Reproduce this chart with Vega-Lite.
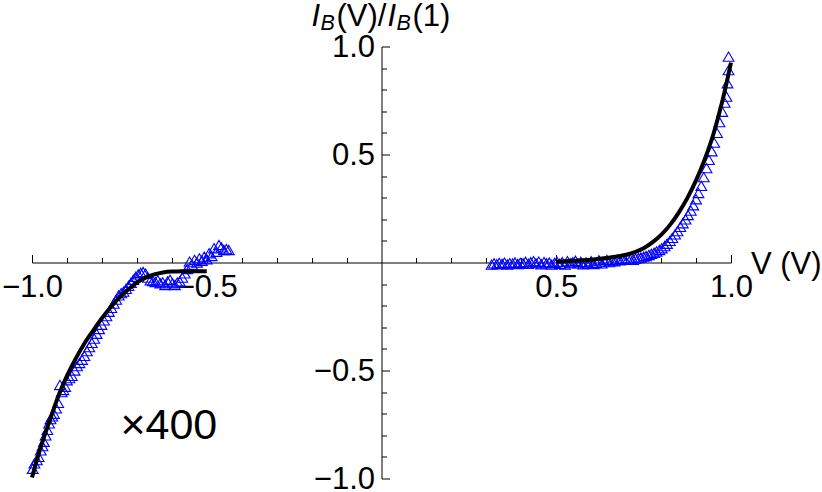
{
  "$schema": "https://vega.github.io/schema/vega-lite/v6.json",
  "width": 699,
  "height": 432,
  "autosize": {"type": "none"},
  "padding": {"left": 32, "top": 46.5, "right": 91, "bottom": 13.5},
  "background": "white",
  "config": {"view": {"stroke": null}},
  "resolve": {"axis": {"x": "independent", "y": "independent"}},
  "datasets": {
    "fit": [
      {"v": -1.0, "r": -0.995, "seg": "L"}, {"v": -0.975, "r": -0.855, "seg": "L"}, {"v": -0.95, "r": -0.735, "seg": "L"},
      {"v": -0.925, "r": -0.62, "seg": "L"}, {"v": -0.9, "r": -0.525, "seg": "L"}, {"v": -0.875, "r": -0.445, "seg": "L"},
      {"v": -0.85, "r": -0.375, "seg": "L"}, {"v": -0.825, "r": -0.315, "seg": "L"}, {"v": -0.8, "r": -0.258, "seg": "L"},
      {"v": -0.775, "r": -0.207, "seg": "L"}, {"v": -0.75, "r": -0.163, "seg": "L"}, {"v": -0.725, "r": -0.125, "seg": "L"},
      {"v": -0.7, "r": -0.093, "seg": "L"}, {"v": -0.675, "r": -0.07, "seg": "L"}, {"v": -0.65, "r": -0.055, "seg": "L"},
      {"v": -0.625, "r": -0.046, "seg": "L"}, {"v": -0.6, "r": -0.042, "seg": "L"}, {"v": -0.575, "r": -0.041, "seg": "L"},
      {"v": -0.55, "r": -0.04, "seg": "L"}, {"v": -0.525, "r": -0.04, "seg": "L"}, {"v": -0.5, "r": -0.04, "seg": "L"},
      {"v": 0.5, "r": 0.004, "seg": "R"}, {"v": 0.525, "r": 0.006, "seg": "R"}, {"v": 0.55, "r": 0.008, "seg": "R"},
      {"v": 0.575, "r": 0.01, "seg": "R"}, {"v": 0.6, "r": 0.013, "seg": "R"}, {"v": 0.625, "r": 0.017, "seg": "R"},
      {"v": 0.65, "r": 0.022, "seg": "R"}, {"v": 0.675, "r": 0.028, "seg": "R"}, {"v": 0.7, "r": 0.036, "seg": "R"},
      {"v": 0.725, "r": 0.048, "seg": "R"}, {"v": 0.75, "r": 0.066, "seg": "R"}, {"v": 0.775, "r": 0.093, "seg": "R"},
      {"v": 0.8, "r": 0.128, "seg": "R"}, {"v": 0.825, "r": 0.173, "seg": "R"}, {"v": 0.85, "r": 0.23, "seg": "R"},
      {"v": 0.875, "r": 0.298, "seg": "R"}, {"v": 0.9, "r": 0.38, "seg": "R"}, {"v": 0.925, "r": 0.478, "seg": "R"},
      {"v": 0.95, "r": 0.596, "seg": "R"}, {"v": 0.975, "r": 0.745, "seg": "R"}, {"v": 1.0, "r": 0.925, "seg": "R"}
    ],
    "meas": [
      {"v": -0.998, "r": -0.955}, {"v": -0.993, "r": -0.93}, {"v": -0.986, "r": -0.915}, {"v": -0.981, "r": -0.9},
      {"v": -0.975, "r": -0.87}, {"v": -0.97, "r": -0.85}, {"v": -0.966, "r": -0.83}, {"v": -0.961, "r": -0.8},
      {"v": -0.956, "r": -0.775}, {"v": -0.951, "r": -0.745}, {"v": -0.947, "r": -0.725}, {"v": -0.942, "r": -0.712},
      {"v": -0.937, "r": -0.7}, {"v": -0.931, "r": -0.675}, {"v": -0.925, "r": -0.65}, {"v": -0.92, "r": -0.567},
      {"v": -0.915, "r": -0.6}, {"v": -0.91, "r": -0.59}, {"v": -0.905, "r": -0.575}, {"v": -0.9, "r": -0.545},
      {"v": -0.893, "r": -0.535}, {"v": -0.886, "r": -0.525}, {"v": -0.878, "r": -0.5}, {"v": -0.871, "r": -0.48},
      {"v": -0.864, "r": -0.465}, {"v": -0.857, "r": -0.45}, {"v": -0.85, "r": -0.432}, {"v": -0.843, "r": -0.41},
      {"v": -0.836, "r": -0.392}, {"v": -0.829, "r": -0.372}, {"v": -0.822, "r": -0.352}, {"v": -0.815, "r": -0.33},
      {"v": -0.808, "r": -0.308}, {"v": -0.801, "r": -0.288}, {"v": -0.794, "r": -0.268}, {"v": -0.787, "r": -0.248},
      {"v": -0.78, "r": -0.228}, {"v": -0.773, "r": -0.21}, {"v": -0.766, "r": -0.19}, {"v": -0.759, "r": -0.172},
      {"v": -0.752, "r": -0.152}, {"v": -0.745, "r": -0.142}, {"v": -0.738, "r": -0.135}, {"v": -0.731, "r": -0.122},
      {"v": -0.724, "r": -0.108}, {"v": -0.717, "r": -0.094}, {"v": -0.71, "r": -0.08}, {"v": -0.703, "r": -0.066},
      {"v": -0.696, "r": -0.055}, {"v": -0.689, "r": -0.048}, {"v": -0.682, "r": -0.044}, {"v": -0.675, "r": -0.052},
      {"v": -0.668, "r": -0.07}, {"v": -0.661, "r": -0.082}, {"v": -0.654, "r": -0.086}, {"v": -0.647, "r": -0.09},
      {"v": -0.64, "r": -0.082}, {"v": -0.633, "r": -0.096}, {"v": -0.626, "r": -0.092}, {"v": -0.619, "r": -0.104},
      {"v": -0.612, "r": -0.088}, {"v": -0.605, "r": -0.08}, {"v": -0.598, "r": -0.096}, {"v": -0.591, "r": -0.104},
      {"v": -0.584, "r": -0.092}, {"v": -0.577, "r": -0.088}, {"v": -0.57, "r": -0.07}, {"v": -0.563, "r": -0.05},
      {"v": -0.556, "r": -0.03}, {"v": -0.549, "r": 0.004}, {"v": -0.542, "r": -0.01}, {"v": -0.535, "r": 0.012},
      {"v": -0.528, "r": 0.0}, {"v": -0.521, "r": 0.019}, {"v": -0.514, "r": 0.008}, {"v": -0.507, "r": 0.027},
      {"v": -0.5, "r": 0.015}, {"v": -0.493, "r": 0.043}, {"v": -0.486, "r": 0.03}, {"v": -0.479, "r": 0.066},
      {"v": -0.472, "r": 0.05}, {"v": -0.465, "r": 0.081}, {"v": -0.458, "r": 0.07}, {"v": -0.451, "r": 0.058},
      {"v": -0.444, "r": 0.062}, {"v": -0.437, "r": 0.058},
      {"v": 0.315, "r": -0.01}, {"v": 0.322, "r": -0.004}, {"v": 0.33, "r": -0.008}, {"v": 0.337, "r": -0.002},
      {"v": 0.345, "r": -0.006}, {"v": 0.352, "r": -0.001}, {"v": 0.36, "r": -0.009}, {"v": 0.367, "r": -0.003},
      {"v": 0.375, "r": -0.005}, {"v": 0.382, "r": 0.0}, {"v": 0.39, "r": -0.007}, {"v": 0.397, "r": -0.002},
      {"v": 0.405, "r": -0.004}, {"v": 0.412, "r": 0.003}, {"v": 0.42, "r": -0.006}, {"v": 0.427, "r": 0.001},
      {"v": 0.435, "r": 0.006}, {"v": 0.442, "r": -0.003}, {"v": 0.45, "r": 0.004}, {"v": 0.457, "r": -0.008},
      {"v": 0.465, "r": 0.002}, {"v": 0.472, "r": -0.004}, {"v": 0.48, "r": 0.0}, {"v": 0.487, "r": -0.01},
      {"v": 0.495, "r": -0.002}, {"v": 0.502, "r": 0.004}, {"v": 0.51, "r": -0.006}, {"v": 0.517, "r": 0.002},
      {"v": 0.525, "r": -0.009}, {"v": 0.532, "r": 0.006}, {"v": 0.54, "r": -0.003}, {"v": 0.547, "r": 0.001},
      {"v": 0.555, "r": 0.008}, {"v": 0.562, "r": -0.004}, {"v": 0.57, "r": 0.003}, {"v": 0.577, "r": -0.008},
      {"v": 0.585, "r": 0.0}, {"v": 0.592, "r": -0.005}, {"v": 0.6, "r": 0.006}, {"v": 0.607, "r": -0.007},
      {"v": 0.615, "r": -0.002}, {"v": 0.622, "r": 0.01}, {"v": 0.63, "r": -0.004}, {"v": 0.637, "r": 0.004},
      {"v": 0.645, "r": 0.012}, {"v": 0.652, "r": 0.002}, {"v": 0.66, "r": 0.009}, {"v": 0.667, "r": 0.005},
      {"v": 0.675, "r": 0.014}, {"v": 0.682, "r": 0.01}, {"v": 0.69, "r": 0.015}, {"v": 0.697, "r": 0.012},
      {"v": 0.705, "r": 0.016}, {"v": 0.712, "r": 0.014}, {"v": 0.72, "r": 0.013}, {"v": 0.727, "r": 0.018},
      {"v": 0.735, "r": 0.02}, {"v": 0.742, "r": 0.023}, {"v": 0.75, "r": 0.027}, {"v": 0.757, "r": 0.03},
      {"v": 0.765, "r": 0.035}, {"v": 0.772, "r": 0.04}, {"v": 0.78, "r": 0.045}, {"v": 0.787, "r": 0.051},
      {"v": 0.795, "r": 0.058}, {"v": 0.802, "r": 0.066}, {"v": 0.81, "r": 0.076}, {"v": 0.817, "r": 0.087},
      {"v": 0.825, "r": 0.1}, {"v": 0.832, "r": 0.114}, {"v": 0.84, "r": 0.13}, {"v": 0.847, "r": 0.145},
      {"v": 0.855, "r": 0.165}, {"v": 0.862, "r": 0.182}, {"v": 0.87, "r": 0.2}, {"v": 0.877, "r": 0.22},
      {"v": 0.885, "r": 0.24}, {"v": 0.892, "r": 0.265}, {"v": 0.9, "r": 0.293}, {"v": 0.907, "r": 0.322},
      {"v": 0.915, "r": 0.355}, {"v": 0.922, "r": 0.395}, {"v": 0.93, "r": 0.437}, {"v": 0.937, "r": 0.475},
      {"v": 0.945, "r": 0.515}, {"v": 0.952, "r": 0.555}, {"v": 0.96, "r": 0.6}, {"v": 0.967, "r": 0.65},
      {"v": 0.975, "r": 0.698}, {"v": 0.982, "r": 0.74}, {"v": 0.987, "r": 0.768}, {"v": 0.99, "r": 0.83},
      {"v": 0.993, "r": 0.891}, {"v": 0.993, "r": 0.953}
    ]
  },
  "layer": [
    {
      "data": {"name": "meas"},
      "mark": {"type": "point", "shape": "triangle-up", "filled": false, "stroke": "#0000ff", "strokeWidth": 1.1, "size": 115, "opacity": 1},
      "encoding": {
        "x": {
          "field": "v", "type": "quantitative",
          "scale": {"domain": [-1, 1], "nice": false, "zero": false},
          "axis": {
            "orient": "bottom", "offset": -216, "title": null, "grid": false,
            "values": [-1, -0.5, 0.5, 1], "format": ".1f",
            "domain": true, "domainColor": "#000000", "domainWidth": 1,
            "ticks": true, "tickColor": "#000000", "tickWidth": 1, "tickSize": -8,
            "labelFont": "Liberation Sans", "labelFontSize": 31, "labelColor": "#000000", "labelPadding": 18,
            "labelOverlap": false, "labelFlush": false, "labelBound": false
          }
        },
        "y": {
          "field": "r", "type": "quantitative",
          "scale": {"domain": [-1, 1], "nice": false, "zero": false},
          "axis": {
            "orient": "left", "offset": -349.5, "title": null, "grid": false,
            "values": [-1, -0.5, 0.5, 1], "format": ".1f",
            "domain": true, "domainColor": "#000000", "domainWidth": 1,
            "ticks": true, "tickColor": "#000000", "tickWidth": 1, "tickSize": -8,
            "labelFont": "Liberation Sans", "labelFontSize": 31, "labelColor": "#000000", "labelPadding": 15, "labelOffset": 1,
            "labelOverlap": false, "labelFlush": false, "labelBound": false
          }
        }
      }
    },
    {
      "data": {"name": "fit"},
      "mark": {"type": "line", "color": "#000000", "strokeWidth": 4, "interpolate": "monotone"},
      "encoding": {
        "x": {
          "field": "v", "type": "quantitative",
          "axis": {
            "orient": "bottom", "offset": -216, "title": null, "grid": false,
            "values": [-0.9, -0.8, -0.7, -0.6, -0.4, -0.3, -0.2, -0.1, 0.1, 0.2, 0.3, 0.4, 0.6, 0.7, 0.8, 0.9],
            "domain": false, "labels": false,
            "ticks": true, "tickColor": "#000000", "tickWidth": 1, "tickSize": -5
          }
        },
        "y": {
          "field": "r", "type": "quantitative",
          "axis": {
            "orient": "left", "offset": -349.5, "title": null, "grid": false,
            "values": [-0.9, -0.8, -0.7, -0.6, -0.4, -0.3, -0.2, -0.1, 0.1, 0.2, 0.3, 0.4, 0.6, 0.7, 0.8, 0.9],
            "domain": false, "labels": false,
            "ticks": true, "tickColor": "#000000", "tickWidth": 1, "tickSize": -5
          }
        },
        "detail": {"field": "seg"}
      }
    },
    {
      "data": {"values": [{"t": "V (V)"}]},
      "mark": {"type": "text", "align": "left", "baseline": "alphabetic", "dx": 20, "dy": 11, "font": "Liberation Sans", "fontSize": 31, "color": "#000000"},
      "encoding": {
        "x": {"datum": 1, "type": "quantitative", "axis": null},
        "y": {"datum": 0, "type": "quantitative", "axis": null},
        "text": {"field": "t"}
      }
    },
    {
      "data": {"values": [{"t": "×400"}]},
      "mark": {"type": "text", "align": "left", "baseline": "alphabetic", "dx": 1, "dy": 4, "font": "Liberation Sans", "fontSize": 43, "color": "#000000"},
      "encoding": {
        "x": {"datum": -0.75, "type": "quantitative", "axis": null},
        "y": {"datum": -0.8, "type": "quantitative", "axis": null},
        "text": {"field": "t"}
      }
    },
    {
      "data": {"values": [{"t": "I"}]},
      "mark": {"type": "text", "align": "left", "baseline": "alphabetic", "dx": -70, "dy": -20.5, "font": "Liberation Sans", "fontStyle": "italic", "fontSize": 31, "color": "#000000"},
      "encoding": {
        "x": {"datum": 0, "type": "quantitative", "axis": null},
        "y": {"datum": 1, "type": "quantitative", "axis": null},
        "text": {"field": "t"}
      }
    },
    {
      "data": {"values": [{"t": "B"}]},
      "mark": {"type": "text", "align": "left", "baseline": "alphabetic", "dx": -61, "dy": -16.5, "font": "Liberation Sans", "fontStyle": "italic", "fontSize": 21.5, "color": "#000000"},
      "encoding": {
        "x": {"datum": 0, "type": "quantitative", "axis": null},
        "y": {"datum": 1, "type": "quantitative", "axis": null},
        "text": {"field": "t"}
      }
    },
    {
      "data": {"values": [{"t": "(V)/"}]},
      "mark": {"type": "text", "align": "left", "baseline": "alphabetic", "dx": -45, "dy": -20.5, "font": "Liberation Sans", "fontSize": 31, "color": "#000000"},
      "encoding": {
        "x": {"datum": 0, "type": "quantitative", "axis": null},
        "y": {"datum": 1, "type": "quantitative", "axis": null},
        "text": {"field": "t"}
      }
    },
    {
      "data": {"values": [{"t": "I"}]},
      "mark": {"type": "text", "align": "left", "baseline": "alphabetic", "dx": 6, "dy": -20.5, "font": "Liberation Sans", "fontStyle": "italic", "fontSize": 31, "color": "#000000"},
      "encoding": {
        "x": {"datum": 0, "type": "quantitative", "axis": null},
        "y": {"datum": 1, "type": "quantitative", "axis": null},
        "text": {"field": "t"}
      }
    },
    {
      "data": {"values": [{"t": "B"}]},
      "mark": {"type": "text", "align": "left", "baseline": "alphabetic", "dx": 15, "dy": -16.5, "font": "Liberation Sans", "fontStyle": "italic", "fontSize": 21.5, "color": "#000000"},
      "encoding": {
        "x": {"datum": 0, "type": "quantitative", "axis": null},
        "y": {"datum": 1, "type": "quantitative", "axis": null},
        "text": {"field": "t"}
      }
    },
    {
      "data": {"values": [{"t": "(1)"}]},
      "mark": {"type": "text", "align": "left", "baseline": "alphabetic", "dx": 31, "dy": -20.5, "font": "Liberation Sans", "fontSize": 31, "color": "#000000"},
      "encoding": {
        "x": {"datum": 0, "type": "quantitative", "axis": null},
        "y": {"datum": 1, "type": "quantitative", "axis": null},
        "text": {"field": "t"}
      }
    }
  ]
}
